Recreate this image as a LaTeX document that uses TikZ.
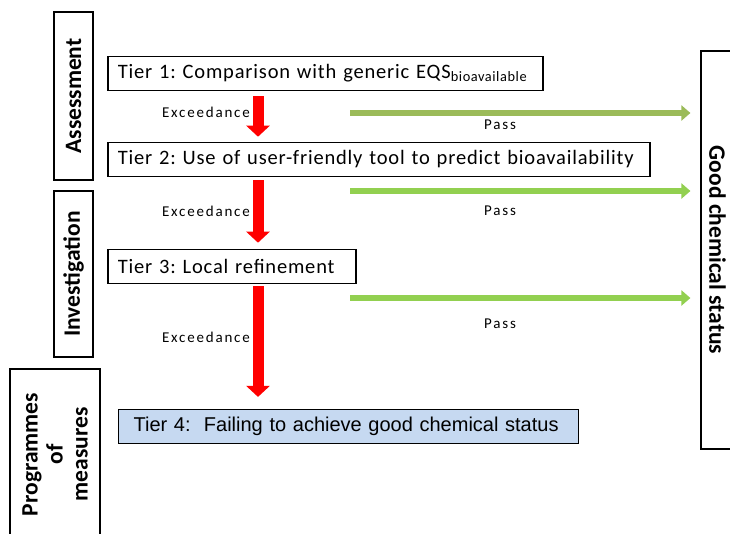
\documentclass[tikz,border=0pt]{standalone}
\usepackage{fontspec}
\setmainfont{Carlito}
\newfontfamily\tierfont[LetterSpace=4]{Carlito}
\newfontfamily\labelfont[LetterSpace=12]{Carlito}
\newfontfamily\arialfont{Liberation Sans}
\usetikzlibrary{arrows.meta}
\definecolor{passolive}{HTML}{9BBB59}
\definecolor{passgreen}{HTML}{92D050}
\definecolor{tierblue}{HTML}{C6D9F1}
\definecolor{failred}{HTML}{FF0000}
\frenchspacing
\begin{document}
\begin{tikzpicture}[x=1pt,y=-1pt,
  tierbox/.style={draw=black, line width=1.6pt, anchor=west, minimum height=34pt,
    inner xsep=10pt, inner ysep=0pt, align=left,
    font=\tierfont\fontsize{20.5}{23}\selectfont},
  sidebox/.style={draw=black, line width=1.2pt, inner sep=0pt, align=center,
    font=\fontsize{23.5}{25}\selectfont\bfseries},
  exlabel/.style={anchor=east, inner sep=0pt, font=\labelfont\fontsize{15}{17}\selectfont},
  passlabel/.style={inner sep=0pt, font=\labelfont\fontsize{15}{17}\selectfont},
  failarrow/.style={draw=failred, line width=11pt,
    -{Triangle[width=23pt,length=11pt]}},
  passarrow/.style={line width=6.5pt, -{Triangle[width=15pt,length=9pt]}}
]
\clip (0,0) rectangle (730,533);
\fill[white] (0,0) rectangle (730,533);

% stage boxes on the left
\node[sidebox, rotate=90, minimum width=168pt, minimum height=39pt] (assess) at (73.5,96) {Assessment};
\node[sidebox, rotate=90, minimum width=166pt, minimum height=39pt] (invest) at (73.5,274) {Investigation};
\node[sidebox, rotate=90, minimum width=171pt, minimum height=90pt] (progr) at (55,454.5) {Programmes\\of\\measures};

% outcome box on the right (its south side faces the tiers)
\node[sidebox, rotate=-90, minimum width=398pt, minimum height=33pt] (good) at (717.5,250) {Good chemical status};

% tiers
\node[tierbox, text width=415pt] (t1) at (107,73.5) {Tier 1: Comparison with generic EQS\textsubscript{bioavailable}};
\node[tierbox, text width=522pt] (t2) at (107,159.5) {Tier 2: Use of user-friendly tool to predict bioavailability};
\node[tierbox, text width=228pt] (t3) at (107,266.5) {Tier 3: Local refinement};
\node[tierbox, fill=tierblue, line width=1.2pt, inner xsep=15pt, text width=430pt,
  font=\arialfont\fontsize{20}{23}\selectfont] (t4) at (118,426.5) {\mbox{Tier 4:\ \ Failing to achieve good chemical status}};

% exceedance arrows
\coordinate (ax) at (258,0);
\draw[failarrow, shorten <=5pt, shorten >=5pt] (t1.south -| ax) -- (t2.north -| ax);
\draw[failarrow, shorten <=3pt, shorten >=6pt] (t2.south -| ax) -- (t3.north -| ax);
\draw[failarrow, shorten <=2pt, shorten >=12pt] (t3.south -| ax) -- (t4.north -| ax);
\node[exlabel] (ex1) at (250,112) {Exceedance};
\node[exlabel] (ex2) at (250,211) {Exceedance};
\node[exlabel] (ex3) at (250,337) {Exceedance};

% pass arrows
\coordinate (p1) at (350,113);
\coordinate (p2) at (350,191);
\coordinate (p3) at (350,298);
\draw[passarrow, draw=passolive, shorten >=10pt] (p1) -- (p1 -| good.south);
\draw[passarrow, draw=passgreen, shorten >=10pt] (p2) -- (p2 -| good.south);
\draw[passarrow, draw=passgreen, shorten >=10pt] (p3) -- (p3 -| good.south);
\node[passlabel] (pa1) at (500,125) {Pass};
\node[passlabel] (pa2) at (500,211) {Pass};
\node[passlabel] (pa3) at (500,324) {Pass};
\end{tikzpicture}
\end{document}
